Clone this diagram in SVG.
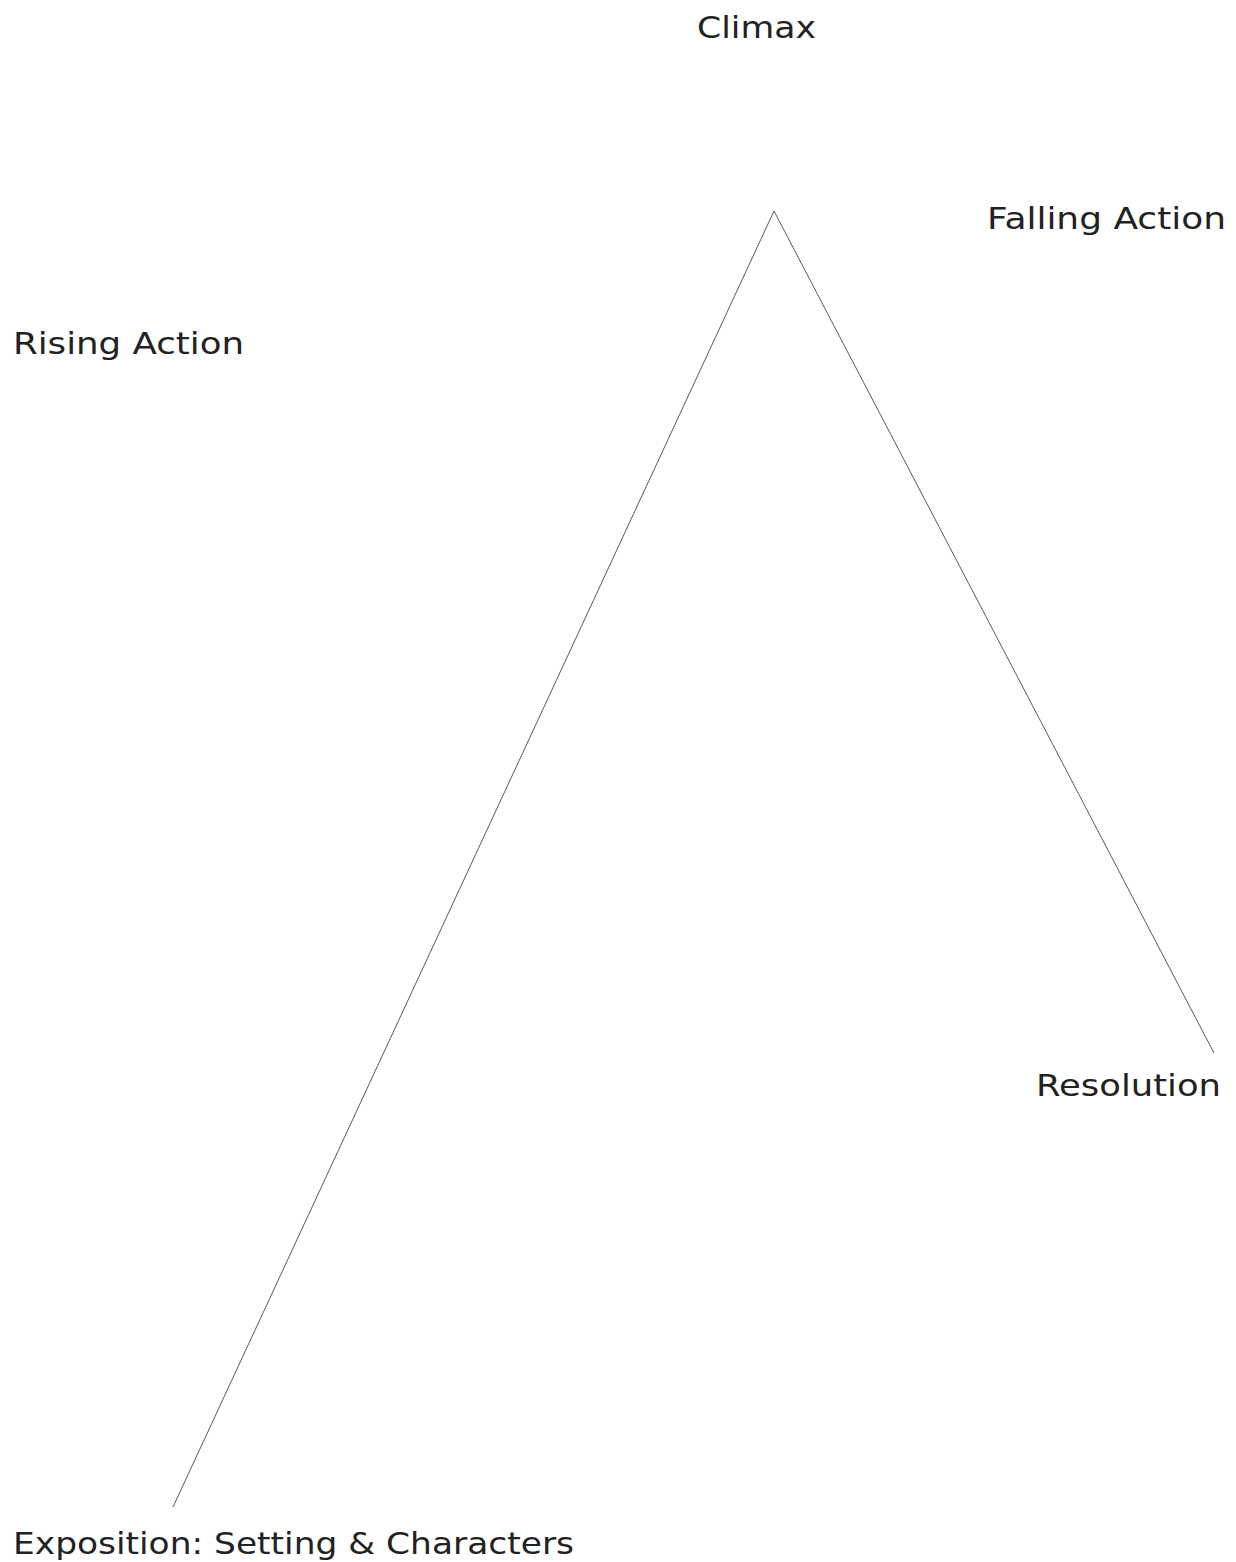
<svg xmlns="http://www.w3.org/2000/svg" width="1236" height="1562" viewBox="0 0 1236 1562">
<style>
.lbl{font-family:"DejaVu Sans","Noto Sans",sans-serif;font-size:31px;fill:#222;}
.ln{stroke:#5a5a5a;stroke-width:1;fill:none;}
</style>
<rect width="1236" height="1562" fill="#fff"/>
<g id="connectors">
<polyline class="ln" points="173,1507 774,211 1214,1053"/>
</g>
<g id="climax"><text class="lbl" x="697" y="38" textLength="119" lengthAdjust="spacingAndGlyphs">Climax</text></g>
<g id="falling-action"><text class="lbl" x="987" y="229" textLength="239" lengthAdjust="spacingAndGlyphs">Falling Action</text></g>
<g id="rising-action"><text class="lbl" x="13" y="354" textLength="231" lengthAdjust="spacingAndGlyphs">Rising Action</text></g>
<g id="resolution"><text class="lbl" x="1036" y="1096" textLength="185" lengthAdjust="spacingAndGlyphs">Resolution</text></g>
<g id="exposition"><text class="lbl" x="13" y="1554" textLength="561" lengthAdjust="spacingAndGlyphs">Exposition: Setting &amp; Characters</text></g>
</svg>
